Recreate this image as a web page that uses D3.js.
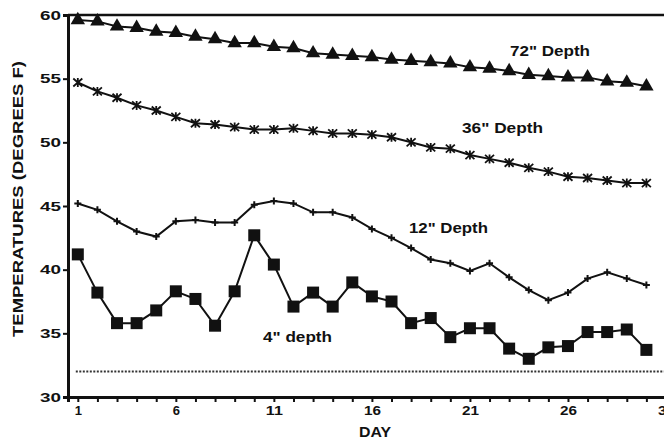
<!DOCTYPE html>
<html>
<head>
<meta charset="utf-8">
<script src="https://cdn.jsdelivr.net/npm/d3@7"></script>
<style>
  body { margin: 0; background: #fff; }
  text { font-family: "Liberation Sans", Arial, sans-serif; font-weight: bold; fill: #111; }
</style>
</head>
<body>
<script>
// soil temperature by depth, daily readings

var days = d3.range(1, 31);
var depth72 = [59.6, 59.5, 59.1, 59.0, 58.7, 58.6, 58.3, 58.1, 57.8, 57.8,
               57.5, 57.4, 57.0, 56.9, 56.8, 56.7, 56.5, 56.4, 56.3, 56.2,
               55.9, 55.8, 55.6, 55.3, 55.2, 55.1, 55.1, 54.8, 54.7, 54.4];
var depth36 = [54.7, 54.0, 53.5, 52.9, 52.5, 52.0, 51.5, 51.4, 51.2, 51.0,
               51.0, 51.1, 50.9, 50.7, 50.7, 50.6, 50.4, 50.0, 49.6, 49.5,
               49.0, 48.7, 48.4, 48.0, 47.7, 47.3, 47.2, 47.0, 46.8, 46.8];
var depth12 = [45.2, 44.7, 43.8, 43.0, 42.6, 43.8, 43.9, 43.7, 43.7, 45.1,
               45.4, 45.2, 44.5, 44.5, 44.1, 43.2, 42.5, 41.7, 40.8, 40.5,
               39.9, 40.5, 39.4, 38.4, 37.6, 38.2, 39.3, 39.8, 39.3, 38.8];
var depth4 = [41.2, 38.2, 35.8, 35.8, 36.8, 38.3, 37.7, 35.6, 38.3, 42.7,
              40.4, 37.1, 38.2, 37.1, 39.0, 37.9, 37.5, 35.8, 36.2, 34.7,
              35.4, 35.4, 33.8, 33.0, 33.9, 34.0, 35.1, 35.1, 35.3, 33.7];
var freezing = 32;
var yTicks = [30, 35, 40, 45, 50, 55, 60];
var xTickLabels = [1, 6, 11, 16, 21, 26, 31];

var width = 664, height = 439;
var margin = {top: 15, left: 68, bottom: 42};

var svg = d3.select("body").append("svg")
    .attr("width", width)
    .attr("height", height);

var x = d3.scaleLinear().domain([0.5, 31]).range([margin.left, 666]);
var y = d3.scaleLinear().domain([30, 60]).range([height - margin.bottom, margin.top]);

// top frame
svg.append("line")
    .attr("x1", x(0.5)).attr("x2", width)
    .attr("y1", y(60)).attr("y2", y(60))
    .attr("stroke", "#111").attr("stroke-width", 2.5);

// y axis
var yAxis = svg.append("g")
    .attr("transform", "translate(" + x(0.5) + ",0)")
    .call(d3.axisLeft(y).tickValues(yTicks).tickSize(5).tickPadding(2));
yAxis.select(".domain").attr("stroke", "#111").attr("stroke-width", 3);
yAxis.selectAll(".tick line").attr("stroke", "#111").attr("stroke-width", 2);
yAxis.selectAll("text")
    .style("font-size", "13px")
    .attr("textLength", 21)
    .attr("lengthAdjust", "spacingAndGlyphs");

// x axis
var xAxis = svg.append("g")
    .attr("transform", "translate(0," + y(30) + ")")
    .call(d3.axisBottom(x).tickValues(d3.range(1, 32)).tickSize(5).tickPadding(4)
      .tickFormat(function(d) { return xTickLabels.indexOf(d) >= 0 ? d : ""; }));
xAxis.select(".domain").attr("stroke", "#111").attr("stroke-width", 3);
xAxis.selectAll(".tick line").attr("stroke", "#111").attr("stroke-width", 2);
xAxis.selectAll("text")
    .style("font-size", "13px")
    .each(function(d) {
      var s = String(d);
      if (xTickLabels.indexOf(d) >= 0 && s.length > 1) {
        d3.select(this).attr("textLength", 17).attr("lengthAdjust", "spacingAndGlyphs");
      }
    });

svg.append("text")
    .attr("x", 375).attr("y", 437)
    .attr("text-anchor", "middle")
    .style("font-size", "14px")
    .attr("textLength", 32)
    .attr("lengthAdjust", "spacingAndGlyphs")
    .text("DAY");

svg.append("text")
    .attr("transform", "translate(23," + 199 + ") rotate(-90)")
    .attr("text-anchor", "middle")
    .style("font-size", "15px")
    .attr("textLength", 276)
    .attr("lengthAdjust", "spacingAndGlyphs")
    .text("TEMPERATURES (DEGREES F)");

// freezing reference line
svg.append("line")
    .attr("x1", x(1) - 2).attr("x2", width)
    .attr("y1", y(freezing)).attr("y2", y(freezing))
    .attr("stroke", "#333").attr("stroke-width", 2)
    .attr("stroke-dasharray", "2,1.5");

var line = d3.line()
    .x(function(d, i) { return x(days[i]); })
    .y(function(d) { return y(d); });

function drawSeries(values) {
  svg.append("path")
      .datum(values)
      .attr("d", line)
      .attr("fill", "none")
      .attr("stroke", "#111")
      .attr("stroke-width", 2);
}

[depth72, depth36, depth12, depth4].forEach(drawSeries);

// markers
svg.append("g").selectAll("path")
    .data(depth72)
  .enter().append("path")
    .attr("transform", function(d, i) { return "translate(" + x(days[i]) + "," + y(d) + ")"; })
    .attr("d", d3.symbol().type(d3.symbolTriangle).size(90))
    .attr("fill", "#111");

svg.append("g").selectAll("rect")
    .data(depth4)
  .enter().append("rect")
    .attr("x", function(d, i) { return x(days[i]) - 6; })
    .attr("y", function(d) { return y(d) - 6; })
    .attr("width", 12).attr("height", 12)
    .attr("fill", "#111");

svg.append("g").selectAll("path")
    .data(depth36)
  .enter().append("path")
    .attr("transform", function(d, i) { return "translate(" + x(days[i]) + "," + y(d) + ")"; })
    .attr("d", "M-4.5,-4L4.5,4M-4.5,4L4.5,-4M0,-4.5L0,4.5")
    .attr("stroke", "#111").attr("stroke-width", 1.8);

svg.append("g").selectAll("path")
    .data(depth12)
  .enter().append("path")
    .attr("transform", function(d, i) { return "translate(" + x(days[i]) + "," + y(d) + ")"; })
    .attr("d", "M-3.5,0L3.5,0M0,-3.5L0,3.5")
    .attr("stroke", "#111").attr("stroke-width", 2);

// series labels
var labels = [
  {text: "72\" Depth", x: 510, y: 56, w: 80},
  {text: "36\" Depth", x: 462, y: 133, w: 81},
  {text: "12\" Depth", x: 409, y: 233, w: 79},
  {text: "4\" depth", x: 263, y: 342, w: 69}
];
svg.append("g").selectAll("text")
    .data(labels)
  .enter().append("text")
    .attr("x", function(d) { return d.x; })
    .attr("y", function(d) { return d.y; })
    .style("font-size", "15.5px")
    .attr("textLength", function(d) { return d.w; })
    .attr("lengthAdjust", "spacingAndGlyphs")
    .text(function(d) { return d.text; });
</script>
</body>
</html>
